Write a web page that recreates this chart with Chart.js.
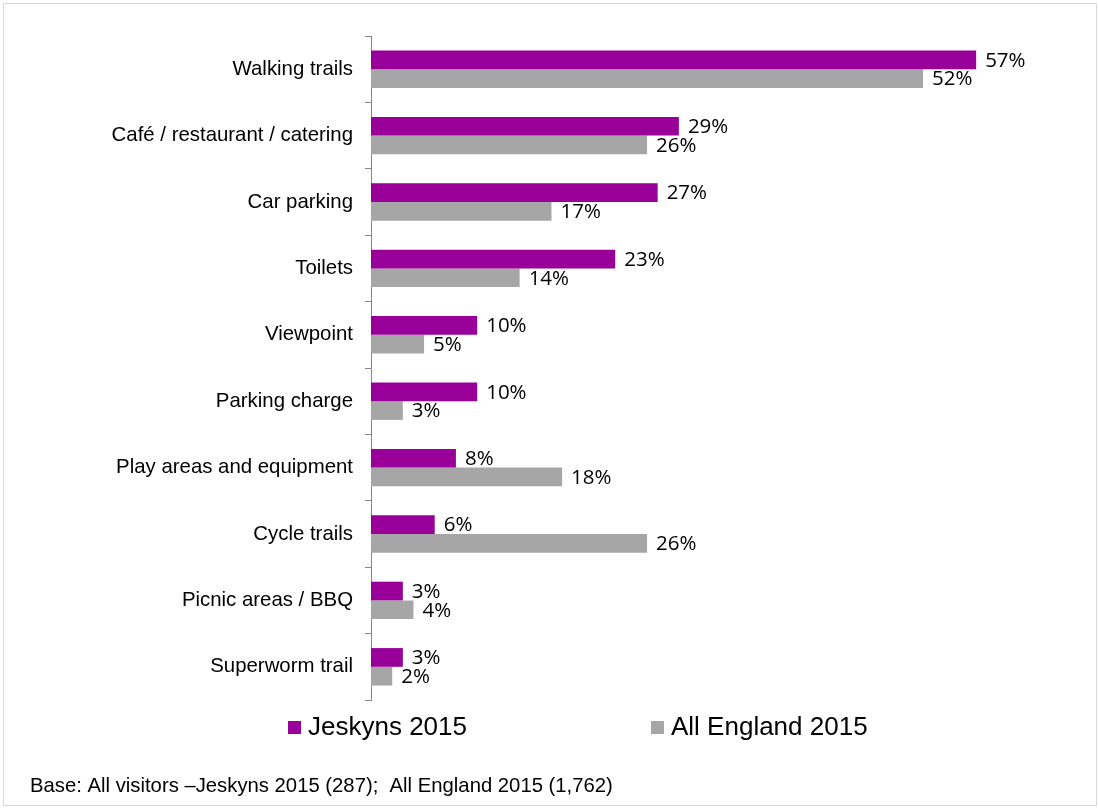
<!DOCTYPE html>
<html>
<head>
<meta charset="utf-8">
<title>Facilities used</title>
<script src="https://cdn.jsdelivr.net/npm/chart.js@4/dist/chart.umd.min.js"></script>
<style>
  html, body { margin: 0; padding: 0; background: #fff; }
  #wrap { position: relative; width: 1098px; height: 809px; }
  #frame {
    position: absolute; left: 3px; top: 3px; width: 1092px; height: 801px;
    border: 1px solid #d9d9d9; pointer-events: none;
  }
  canvas { position: absolute; left: 0; top: 0; }
</style>
</head>
<body>
<div id="wrap">
  <canvas id="chart" width="1098" height="809"></canvas>
  <div id="frame"></div>
</div>
<script>
var categories = [
	"Walking trails",
	"Café / restaurant / catering",
	"Car parking",
	"Toilets",
	"Viewpoint",
	"Parking charge",
	"Play areas and equipment",
	"Cycle trails",
	"Picnic areas / BBQ",
	"Superworm trail",
];
var jeskyns2015 = [57, 29, 27, 23, 10, 10, 8, 6, 3, 3];
var allEngland2015 = [52, 26, 17, 14, 5, 3, 18, 26, 4, 2];
var seriesNames = ["Jeskyns 2015", "All England 2015"];
var baseNote = "Base: All visitors \u2013Jeskyns 2015 (287);  All England 2015 (1,762)";

var PURPLE = "#990099";
var GREY = "#a6a6a6";

// value labels just past the end of each bar
var barLabels = {
	id: "barLabels",
	afterDatasetsDraw(chart) {
		const ctx = chart.ctx;
		ctx.save();
		ctx.font = "20.5px 'Open Sans'";
		ctx.fillStyle = "#000";
		ctx.textBaseline = "middle";
		ctx.textAlign = "left";
		chart.data.datasets.forEach((ds, i) => {
			chart.getDatasetMeta(i).data.forEach((bar, j) => {
				ctx.fillText(ds.data[j] + "%", bar.x + 9, bar.y + 1);
			});
		});
		ctx.restore();
	},
};

// legend row and base note under the plot
var footer = {
	id: "footer",
	afterDraw(chart) {
		const ctx = chart.ctx;
		const ds = chart.data.datasets;
		const starts = [288, 651];
		ctx.save();
		ctx.font = "26px 'Liberation Sans', Arial, sans-serif";
		ctx.textBaseline = "alphabetic";
		ds.forEach((d, i) => {
			ctx.fillStyle = d.backgroundColor;
			ctx.fillRect(starts[i], 721, 13, 13);
			ctx.fillStyle = "#000";
			ctx.fillText(d.label, starts[i] + 20, 735);
		});
		ctx.font = "20.3px 'Liberation Sans', Arial, sans-serif";
		ctx.fillText(baseNote, 30, 792);
		ctx.restore();
	},
};

var config = {
	type: "bar",
	data: {
		labels: categories,
		datasets: [
			{
				label: seriesNames[0],
				data: jeskyns2015,
				backgroundColor: PURPLE,
			},
			{
				label: seriesNames[1],
				data: allEngland2015,
				backgroundColor: GREY,
			},
		],
	},
	options: {
		indexAxis: "y",
		responsive: false,
		animation: false,
		devicePixelRatio: 1,
		categoryPercentage: 0.564,
		barPercentage: 1,
		layout: { padding: { top: 36, bottom: 109, left: 0, right: 90 } },
		plugins: {
			legend: { display: false },
			tooltip: { enabled: false },
		},
		scales: {
			x: { display: false, min: 0, max: 60 },
			y: {
				afterFit(scale) {
					scale.width = 371;
				},
				border: { color: "#868686", width: 1 },
				grid: {
					drawOnChartArea: false,
					offset: true,
					tickLength: 6,
					color: "#868686",
				},
				ticks: {
					padding: 12,
					color: "#000",
					font: { family: "'Liberation Sans', Arial, sans-serif", size: 20.4 },
				},
			},
		},
	},
	plugins: [barLabels, footer],
};

new Chart(document.getElementById("chart").getContext("2d"), config);
</script>
</body>
</html>
